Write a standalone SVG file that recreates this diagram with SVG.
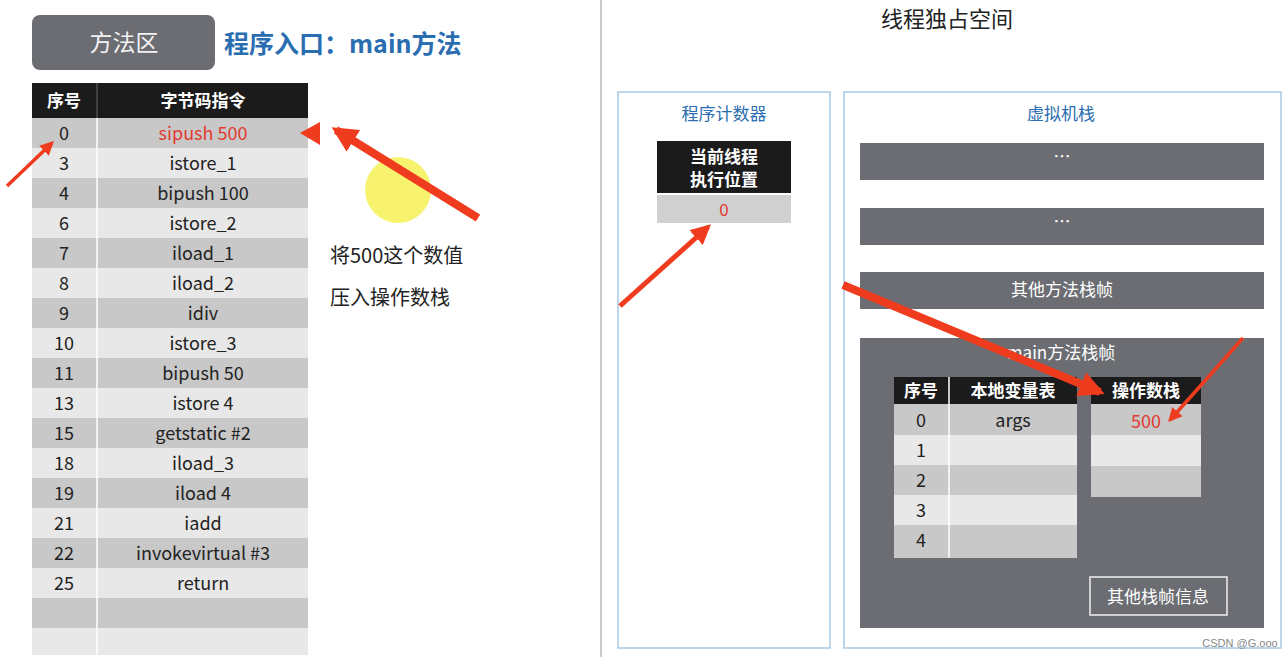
<svg xmlns="http://www.w3.org/2000/svg" width="1285" height="657" viewBox="0 0 1285 657">
<defs>
<marker id="ah" viewBox="0 0 10 10" refX="8" refY="5" markerWidth="4" markerHeight="4" orient="auto" markerUnits="strokeWidth"><path d="M0,0L10,5L0,10z" fill="#f03c1e"/></marker>
<marker id="ahb" viewBox="0 0 10 10" refX="8" refY="5" markerWidth="3.2" markerHeight="3.2" orient="auto" markerUnits="strokeWidth"><path d="M0,0L10,5L0,10z" fill="#f03c1e"/></marker>
</defs>
<style>
text{font-family:"Noto Sans CJK SC","Noto Sans",sans-serif;text-anchor:middle}
.c{font-size:18px;fill:#222}
.h{font-size:17px;fill:#fff;font-weight:bold}
.d{fill:#c8c8c8}.l{fill:#e8e8e8}
.bar{fill:#6b6d72}
.w{font-size:17px;fill:#fff}
.blue{fill:#2a6db0}
.arr{stroke:#f03c1e;fill:none}
</style>
<rect width="1285" height="657" fill="#fff"/>
<g id="method-area">
<rect x="32" y="15" width="183" height="55" rx="8" fill="#6b6d72"/>
<text x="124" y="51" font-size="23" fill="#f2f2f2">方法区</text>
<text x="224" y="53" font-size="25" class="blue" font-weight="bold" style="text-anchor:start">程序入口：main方法</text>
</g>
<circle cx="398" cy="190" r="33" fill="#f6f04a" opacity="0.8"/>
<g id="bytecode-table">
<rect x="32" y="83" width="276" height="35" fill="#1b1b1b"/>
<line x1="97" y1="83" x2="97" y2="118" stroke="#666"/>
<text x="64" y="107" class="h">序号</text><text x="203" y="107" class="h">字节码指令</text>
<g>
<rect x="32" y="118" width="276" height="30" class="d"/><rect x="32" y="148" width="276" height="30" class="l"/>
<rect x="32" y="178" width="276" height="30" class="d"/><rect x="32" y="208" width="276" height="30" class="l"/>
<rect x="32" y="238" width="276" height="30" class="d"/><rect x="32" y="268" width="276" height="30" class="l"/>
<rect x="32" y="298" width="276" height="30" class="d"/><rect x="32" y="328" width="276" height="30" class="l"/>
<rect x="32" y="358" width="276" height="30" class="d"/><rect x="32" y="388" width="276" height="30" class="l"/>
<rect x="32" y="418" width="276" height="30" class="d"/><rect x="32" y="448" width="276" height="30" class="l"/>
<rect x="32" y="478" width="276" height="30" class="d"/><rect x="32" y="508" width="276" height="30" class="l"/>
<rect x="32" y="538" width="276" height="30" class="d"/><rect x="32" y="568" width="276" height="30" class="l"/>
<rect x="32" y="598" width="276" height="30" class="d"/><rect x="32" y="628" width="276" height="27" class="l"/>
<line x1="97" y1="118" x2="97" y2="655" stroke="#fff" stroke-width="1.5"/>
</g>
<text x="64" y="140" class="c">0</text><text x="203" y="140" class="c" style="fill:#e23a30">sipush 500</text>
<text x="64" y="170" class="c">3</text><text x="203" y="170" class="c">istore_1</text>
<text x="64" y="200" class="c">4</text><text x="203" y="200" class="c">bipush 100</text>
<text x="64" y="230" class="c">6</text><text x="203" y="230" class="c">istore_2</text>
<text x="64" y="260" class="c">7</text><text x="203" y="260" class="c">iload_1</text>
<text x="64" y="290" class="c">8</text><text x="203" y="290" class="c">iload_2</text>
<text x="64" y="320" class="c">9</text><text x="203" y="320" class="c">idiv</text>
<text x="64" y="350" class="c">10</text><text x="203" y="350" class="c">istore_3</text>
<text x="64" y="380" class="c">11</text><text x="203" y="380" class="c">bipush 50</text>
<text x="64" y="410" class="c">13</text><text x="203" y="410" class="c">istore 4</text>
<text x="64" y="440" class="c">15</text><text x="203" y="440" class="c">getstatic #2</text>
<text x="64" y="470" class="c">18</text><text x="203" y="470" class="c">iload_3</text>
<text x="64" y="500" class="c">19</text><text x="203" y="500" class="c">iload 4</text>
<text x="64" y="530" class="c">21</text><text x="203" y="530" class="c">iadd</text>
<text x="64" y="560" class="c">22</text><text x="203" y="560" class="c">invokevirtual #3</text>
<text x="64" y="590" class="c">25</text><text x="203" y="590" class="c">return</text>
</g>
<g id="note">
<text x="330" y="263" font-size="20" fill="#222" style="text-anchor:start">将500这个数值</text>
<text x="330" y="305" font-size="20" fill="#222" style="text-anchor:start">压入操作数栈</text>
</g>
<g id="thread-space">
<rect x="601" y="-2" width="690" height="664" fill="none" stroke="#b8b8b8" stroke-width="1.5"/>
<text x="947" y="27" font-size="22" fill="#222">线程独占空间</text>
</g>
<g id="pc">
<rect x="618" y="92" width="212" height="556" fill="none" stroke="#a9c9e3" stroke-width="1.5"/>
<text x="724" y="120" font-size="17" class="blue">程序计数器</text>
<rect x="657" y="141" width="134" height="52" fill="#1b1b1b"/>
<text x="724" y="163" class="h">当前线程</text><text x="724" y="186" class="h">执行位置</text>
<rect x="657" y="195" width="134" height="28" fill="#d0d0d0"/>
<text x="724" y="216" font-size="17" fill="#e23a30">0</text>
</g>
<g id="vm-stack">
<rect x="844" y="92" width="437" height="556" fill="none" stroke="#a9c9e3" stroke-width="1.5"/>
<text x="1061" y="120" font-size="17" class="blue">虚拟机栈</text>
<rect x="860" y="143" width="404" height="37" class="bar"/><text x="1062" y="163" class="w">…</text>
<rect x="860" y="208" width="404" height="37" class="bar"/><text x="1062" y="228" class="w">…</text>
<rect x="860" y="272" width="404" height="37" class="bar"/><text x="1062" y="296" class="w">其他方法栈帧</text>
</g>
<g id="main-frame">
<rect x="860" y="338" width="404" height="290" class="bar"/>
<text x="1061" y="359" class="w">main方法栈帧</text>
<rect x="894" y="377" width="183" height="27" fill="#1b1b1b"/>
<text x="921" y="397" class="h">序号</text><text x="1013" y="397" class="h">本地变量表</text>
<rect x="894" y="404" width="183" height="31" class="d"/><rect x="894" y="435" width="183" height="30" class="l"/>
<rect x="894" y="465" width="183" height="30" class="d"/><rect x="894" y="495" width="183" height="30" class="l"/>
<rect x="894" y="525" width="183" height="33" class="d"/>
<line x1="949" y1="377" x2="949" y2="558" stroke="#fff" stroke-width="1.5"/>
<text x="921" y="427" class="c">0</text><text x="1013" y="427" class="c">args</text>
<text x="921" y="457" class="c">1</text><text x="921" y="487" class="c">2</text>
<text x="921" y="517" class="c">3</text><text x="921" y="547" class="c">4</text>
<rect x="1091" y="377" width="110" height="27" fill="#1b1b1b"/>
<text x="1146" y="397" class="h">操作数栈</text>
<rect x="1091" y="404" width="110" height="31" class="d"/><rect x="1091" y="435" width="110" height="31" class="l"/>
<rect x="1091" y="466" width="110" height="31" class="d"/>
<text x="1146" y="428" font-size="18" fill="#e23a30">500</text>
<rect x="1090" y="577" width="137" height="38" fill="none" stroke="#f0f0f0" stroke-width="1.5"/>
<text x="1158" y="603" class="w">其他栈帧信息</text>
</g>
<g id="connectors">
<line x1="7" y1="186" x2="52" y2="143" class="arr" stroke-width="3.5" marker-end="url(#ah)"/>
<path d="M300,133L320,122L320,145z" fill="#f03c1e"/>
<line x1="478" y1="218" x2="336" y2="130" class="arr" stroke-width="8" marker-end="url(#ahb)"/>
<line x1="620" y1="306" x2="708" y2="227" class="arr" stroke-width="5" marker-end="url(#ah)"/>
<line x1="843" y1="285" x2="1100" y2="392" class="arr" stroke-width="8" marker-end="url(#ahb)"/>
<line x1="1243" y1="338" x2="1170" y2="420" class="arr" stroke-width="3.5" marker-end="url(#ah)"/>
</g>
<text x="1240" y="647" font-size="11" fill="#888" style="font-family:'Liberation Sans',sans-serif">CSDN @G.ooo</text>
</svg>
